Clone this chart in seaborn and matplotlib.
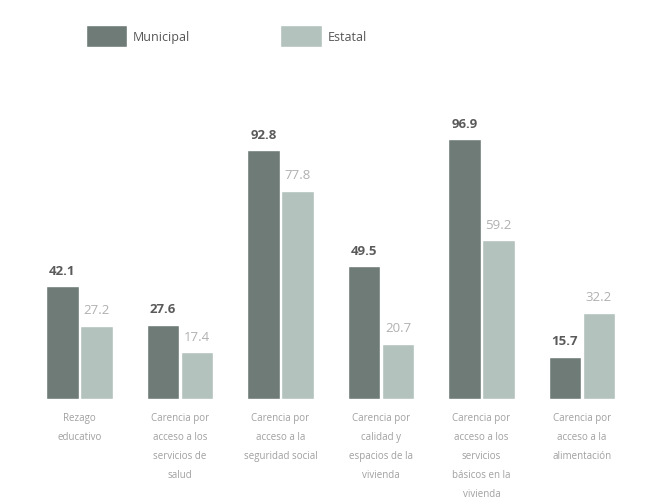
import pandas as pd
import matplotlib
matplotlib.use("Agg")
from matplotlib import pyplot as plt
import seaborn as sns

# data
categorias = [
    "Rezago\neducativo",
    "Carencia por\nacceso a los\nservicios de\nsalud",
    "Carencia por\nacceso a la\nseguridad social",
    "Carencia por\ncalidad y\nespacios de la\nvivienda",
    "Carencia por\nacceso a los\nservicios\nbásicos en la\nvivienda",
    "Carencia por\nacceso a la\nalimentación",
]
municipal = [42.1, 27.6, 92.8, 49.5, 96.9, 15.7]
estatal = [27.2, 17.4, 77.8, 20.7, 59.2, 32.2]
series = ["Municipal", "Estatal"]

df = pd.DataFrame({
    "categoria": categorias * 2,
    "valor": municipal + estatal,
    "nivel": [series[0]] * len(categorias) + [series[1]] * len(categorias),
})

sns.set_style("white")
plt.rcParams["font.family"] = ["Open Sans", "DejaVu Sans"]

colores = {"Municipal": "#6e7b76", "Estatal": "#b3c2bd"}
colores_texto = ["#5a5a5a", "#b0b0b0"]

fig = plt.figure(figsize=(6.49, 5.02), dpi=100)
ax = fig.add_axes([0.045, 0.203, 0.929, 0.598])

sns.barplot(data=df, x="categoria", y="valor", hue="nivel", palette=colores,
            width=0.68, gap=0.05, ax=ax, saturation=1)

for cont, col in zip(ax.containers, colores_texto):
    ax.bar_label(cont, fmt="%.1f", padding=7, fontsize=9.5,
                 color=col, fontweight="bold" if col == colores_texto[0] else "normal")

ax.set_ylim(0, 112)
ax.set_xlim(-0.5, 5.5)
ax.set_xlabel("")
ax.set_ylabel("")
ax.set_yticks([])
ax.tick_params(axis="x", length=0, labelsize=7, labelcolor="#a0a0a0", pad=9)
for lab in ax.get_xticklabels():
    lab.set_linespacing(2.0)
sns.despine(ax=ax, left=True, bottom=True)

ax.legend(loc="lower left", bbox_to_anchor=(0.075, 1.135), ncol=2, frameon=False,
          handlelength=3.3, handleheight=2.4, columnspacing=7.2,
          handletextpad=0.5, fontsize=9, labelcolor="#555555")

fig.savefig("out.png", dpi=100)
